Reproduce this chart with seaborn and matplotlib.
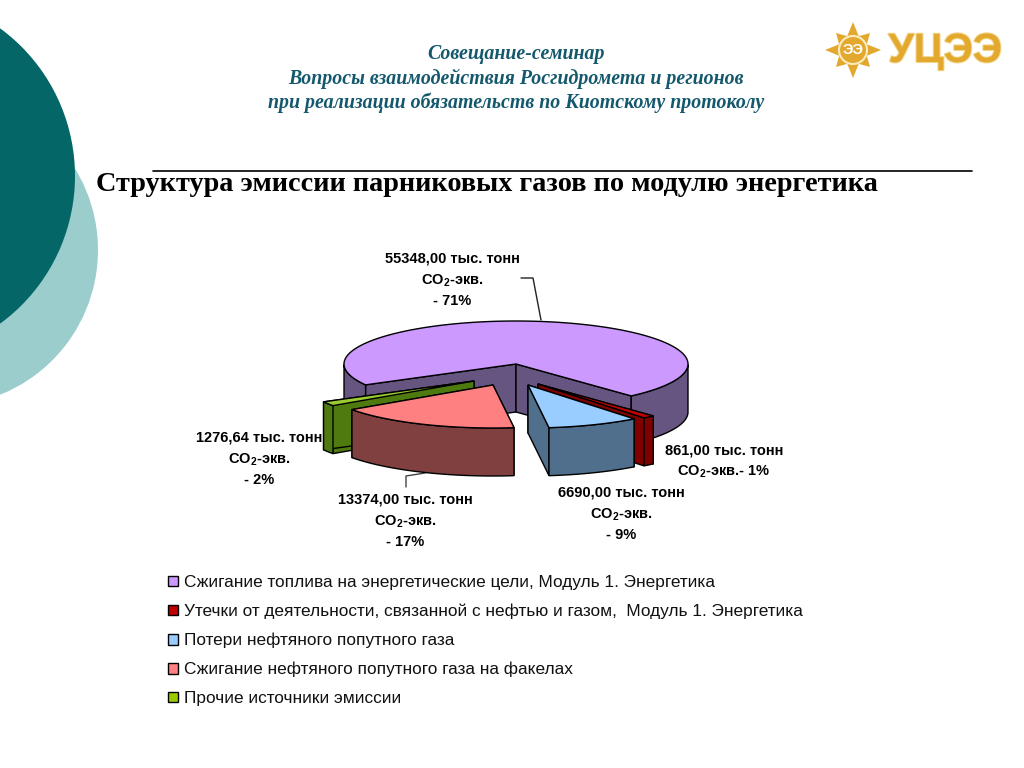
import numpy as np
import matplotlib
matplotlib.use("Agg")
import matplotlib.pyplot as plt
from matplotlib.patches import Circle, Patch
import matplotlib.patheffects as pe
import seaborn as sns

# Данные диаграммы
values = [55348.00, 861.00, 6690.00, 13374.00, 1276.64]
percents = [71, 1, 9, 17, 2]
legend_labels = [
    "Сжигание топлива на энергетические цели, Модуль 1. Энергетика",
    "Утечки от деятельности, связанной с нефтью и газом,  Модуль 1. Энергетика",
    "Потери нефтяного попутного газа",
    "Сжигание нефтяного попутного газа на факелах",
    "Прочие источники эмиссии",
]
header_lines = [
    "Совещание-семинар",
    "Вопросы взаимодействия Росгидромета и регионов",
    "при реализации обязательств по Киотскому протоколу",
]
title_text = "Структура эмиссии парниковых газов по модулю энергетика"

# Цвета: верх и боковая грань
top_colors = sns.color_palette(["#CC99FF", "#C00000", "#99CCFF", "#FF8080", "#99CC33"])
side_colors = sns.color_palette(["#665580", "#800000", "#4F6F8C", "#804040", "#4F7A0F"])
legend_colors = ["#CC99FF", "#C00000", "#99CCFF", "#FF8080", "#99CC00"]

# Геометрия псевдо-3D круга (в пикселях картинки)
cx, cy = 516, 364
rx, ry = 172, 43
depth = 48
start_angle = 209
offsets = [(0, 0), (22, 20), (12, 21), (-23, 21), (-42, 17)]

sns.set_theme(style="white")
plt.rcParams["font.family"] = ["Liberation Sans", "DejaVu Sans"]
plt.rcParams["mathtext.fontset"] = "custom"
plt.rcParams["mathtext.bf"] = "Liberation Sans:bold"
plt.rcParams["mathtext.rm"] = "Liberation Sans"

fig = plt.figure(figsize=(10.24, 7.68), dpi=100)
ax = fig.add_axes([0, 0, 1, 1])
ax.set_xlim(0, 1024)
ax.set_ylim(768, 0)
ax.axis("off")

# Круги фона слайда
ax.add_patch(Circle((-58, 250), 156, color="#9CCDCD", lw=0, zorder=1))
ax.add_patch(Circle((-108, 176), 183, color="#046666", lw=0, zorder=2))

# Шапка
for i, line in enumerate(header_lines):
    ax.text(516, 54.5 + 24 * i, line, family="Liberation Serif", style="italic", weight="bold",
            fontsize=14.3, color="#14586E", ha="center", va="center")
ax.plot([153, 972], [171, 171], color="black", lw=1.2)
ax.text(96, 184.5, title_text, family="Liberation Serif", weight="bold", fontsize=20.35,
        color="black", ha="left", va="center")

# Логотип
star_t = np.linspace(0, 2 * np.pi, 17)[:-1] - np.pi / 2
star_r = np.full(16, 15.0)
star_r[::4] = 28
star_r[2::4] = 24
ax.fill(853 + star_r * np.cos(star_t), 50 + star_r * np.sin(star_t), color="#E3A92F", lw=0, zorder=3)
ax.add_patch(Circle((853, 50), 14, fc="#E3A92F", ec="#FBEBC0", lw=1.5, zorder=4))
ax.text(853, 50, "ЭЭ", fontsize=10.5, weight="bold", color="white", ha="center", va="center", zorder=5)
ax.text(945, 51, "УЦЭЭ", fontsize=29.5, weight="bold", color="#E3A92F", ha="center", va="center",
        path_effects=[pe.withStroke(linewidth=1.5, foreground="#F3D68A")])

# Углы секторов из значений (по часовой стрелке)
shares = np.array(values) / np.sum(values) * 360
ends = start_angle - np.cumsum(shares)
starts = ends + shares


def arc(t1, t2, ox, oy, n=80):
    t = np.radians(np.linspace(t1, t2, n))
    return cx + ox + rx * np.cos(t), cy + oy - ry * np.sin(t)


# Порядок отрисовки: от дальних к ближним
mids = (starts + ends) / 2
order = sorted(range(len(values)), key=lambda k: -np.sin(np.radians(mids[k])) if k else -2)

for z, k in enumerate(order):
    ox, oy = offsets[k]
    a0, a1 = starts[k], ends[k]
    ax_, ay_ = cx + ox, cy + oy
    base = 10 + z * 4
    # срезы
    for a in (a0, a1):
        ex, ey = arc(a, a, ox, oy, 1)
        ax.fill([ax_, ex[0], ex[0], ax_], [ay_, ey[0], ey[0] + depth, ay_ + depth],
                fc=side_colors[k], ec="black", lw=1, zorder=base)
    # внешняя стенка (только нижняя половина эллипса)
    t = np.linspace(a0, a1, 300)
    front = t[np.sin(np.radians(t)) < 0]
    groups = [front[front > 90], front[front < 90]] if k == 0 else [front]
    for g in groups:
        if len(g) > 1:
            wx, wy = arc(g[0], g[-1], ox, oy)
            ax.fill(np.r_[wx, wx[::-1]], np.r_[wy, wy[::-1] + depth],
                    fc=side_colors[k], ec="black", lw=1, zorder=base + 1)
    # верх
    tx, ty = arc(a0, a1, ox, oy, 200)
    ax.fill(np.r_[ax_, tx], np.r_[ay_, ty], fc=top_colors[k], ec="black", lw=1, zorder=base + 2)

# Подписи
label_xy = [(452, 280), (724, 462), (621, 514), (405, 521), (259, 459)]
for k, (x, y) in enumerate(label_xy):
    num = f"{values[k]:.2f}".replace(".", ",") + " тыс. тонн"
    if k == 1:
        txt = f"{num}\nСО$_{{\\mathbf{{2}}}}$-экв.- {percents[k]}%"
    else:
        txt = f"{num}\nСО$_{{\\mathbf{{2}}}}$-экв.\n- {percents[k]}%"
    ax.text(x, y, txt, fontsize=10.5, weight="bold", color="black", ha="center", va="center",
            linespacing=1.5, zorder=40)

# Выноски
ax.plot([521, 533, 541], [278, 278, 320], color="#222222", lw=1, zorder=5)
ax.plot([406, 406, 425], [487, 476, 473], color="#444444", lw=1, zorder=5)

# Легенда
handles = [Patch(fc=c, ec="black", lw=1) for c in legend_colors]
leg = ax.legend(handles, legend_labels, loc="upper left", bbox_to_anchor=(168, 575),
                bbox_transform=ax.transData, frameon=False, fontsize=12.45, handlelength=0.58,
                handleheight=0.58, handletextpad=0.35, labelspacing=0.79, borderpad=0, borderaxespad=0)
for t in leg.get_texts():
    t.set_color("#111111")

fig.savefig("out.png", dpi=100)
